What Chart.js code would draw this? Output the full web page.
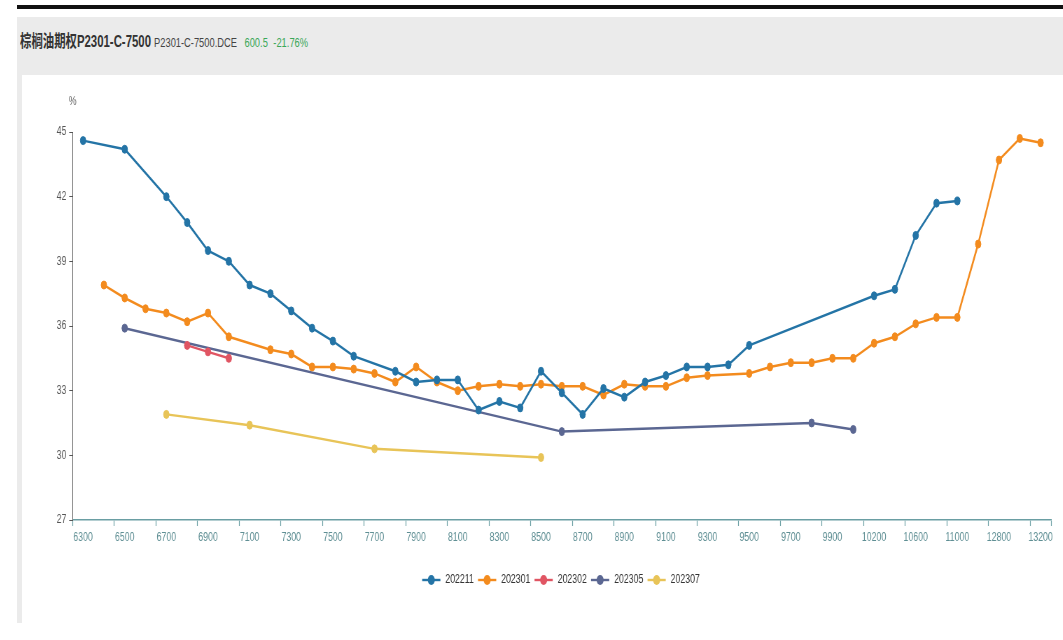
<!DOCTYPE html>
<html><head><meta charset="utf-8">
<script src="https://cdn.jsdelivr.net/npm/chart.js@4.4.0/dist/chart.umd.min.js"></script>
<style>
html,body{margin:0;padding:0;background:#fff;overflow:hidden;width:1063px;height:640px;}
#bar{position:absolute;left:17px;top:5px;width:1100px;height:4px;background:#111;}
#frame{position:absolute;left:17px;top:17px;width:1100px;height:606px;background:#ebebeb;}
#title{position:absolute;left:20px;top:33px;white-space:nowrap;transform:scaleX(0.69);transform-origin:0 0;font-family:"Liberation Sans","Noto Sans CJK SC",sans-serif;color:#333;line-height:17px;}
#title b{font-size:16.5px;font-family:"Liberation Sans","Noto Sans CJK SC",sans-serif;}
#title .c{font-size:13.5px;color:#444;}
#title .g{font-size:13.5px;color:#3aa757;}
#panel{position:absolute;left:22px;top:75px;width:1078px;height:548px;background:#fff;overflow:hidden;}
#wrap{position:absolute;left:0;top:0;width:1540px;height:548px;transform:scaleX(0.7);transform-origin:0 0;}
</style></head>
<body>
<div id="bar"></div>
<div id="frame"></div>
<div id="title"><b>棕榈油期权P2301-C-7500</b> <span class="c">P2301-C-7500.DCE</span><span class="g" style="margin-left:11px">600.5</span><span class="g" style="margin-left:8px">-21.76%</span></div>
<div id="panel"><div id="wrap"><canvas id="c" width="1540" height="548"></canvas></div></div>
<script>
const strikes = ['6300','6400','6500','6600','6700','6800','6900','7000','7100','7200','7300','7400','7500','7600','7700','7800','7900','8000','8100','8200','8300','8400','8500','8600','8700','8800','8900','9000','9100','9200','9300','9400','9500','9600','9700','9800','9900','10000','10200','10400','10600','10800','11000','12600','12800','13000','13200'];
const iv202211 = [44.6,null,44.2,null,42.0,40.8,39.5,39.0,37.9,37.5,36.7,35.9,35.3,34.6,null,33.9,33.4,33.5,33.5,32.1,32.5,32.2,33.9,32.9,31.9,33.1,32.7,33.4,33.7,34.1,34.1,34.2,35.1,null,null,null,null,null,37.4,37.7,40.2,41.7,41.8,null,null,null,null];
const iv202301 = [null,37.9,37.3,36.8,36.6,36.2,36.6,35.5,null,34.9,34.7,34.1,34.1,34.0,33.8,33.4,34.1,33.4,33.0,33.2,33.3,33.2,33.3,33.2,33.2,32.8,33.3,33.2,33.2,33.6,33.7,null,33.8,34.1,34.3,34.3,34.5,34.5,35.2,35.5,36.1,36.4,36.4,39.8,43.7,44.7,44.5];
const iv202302 = [null,null,null,null,null,35.1,34.8,34.5,null,null,null,null,null,null,null,null,null,null,null,null,null,null,null,null,null,null,null,null,null,null,null,null,null,null,null,null,null,null,null,null,null,null,null,null,null,null,null];
const iv202305 = [null,null,35.9,null,null,null,null,null,null,null,null,null,null,null,null,null,null,null,null,null,null,null,null,31.1,null,null,null,null,null,null,null,null,null,null,null,31.5,null,31.2,null,null,null,null,null,null,null,null,null];
const iv202307 = [null,null,null,null,31.9,null,null,null,31.4,null,null,null,null,null,30.3,null,null,null,null,null,null,null,29.9,null,null,null,null,null,null,null,null,null,null,null,null,null,null,null,null,null,null,null,null,null,null,null,null];
const seriesNames = ['202211','202301','202302','202305','202307'];
const seriesColors = ['#2474a6','#f38b1e','#e05563','#5b6792','#e8c458'];
const yMin = 27, yMax = 45, yStep = 3;

const seriesData = [iv202211, iv202301, iv202302, iv202305, iv202307];
const datasets = seriesNames.map((n, i) => ({
  label: n,
  data: seriesData[i],
  borderColor: seriesColors[i],
  backgroundColor: seriesColors[i],
  pointBackgroundColor: seriesColors[i],
  pointBorderColor: seriesColors[i],
  pointRadius: 4,
  pointBorderWidth: 1,
  borderWidth: 2.5,
  tension: 0,
  spanGaps: true
}));

const FONT = '"Liberation Sans", "Noto Sans CJK SC", sans-serif';
const extras = {
  id: 'extras',
  afterDraw(chart) {
    const ctx = chart.ctx, ca = chart.chartArea;
    ctx.save();
    ctx.font = '12.5px ' + FONT;
    ctx.fillStyle = '#666';
    ctx.textAlign = 'center';
    ctx.textBaseline = 'middle';
    ctx.fillText('%', ca.left, ca.top - 30);
    // legend
    const iconW = 26, gapT = 7, gapI = 6;
    const ds = chart.data.datasets;
    const widths = ds.map(d => iconW + gapT + ctx.measureText(d.label).width);
    const total = widths.reduce((a, b) => a + b, 0) + gapI * (widths.length - 1);
    let x = 770 - total / 2;
    const ly = 505;
    ds.forEach((d, i) => {
      ctx.strokeStyle = d.borderColor;
      ctx.lineWidth = 2.4;
      ctx.beginPath();
      ctx.moveTo(x, ly); ctx.lineTo(x + iconW, ly);
      ctx.stroke();
      ctx.fillStyle = d.borderColor;
      ctx.beginPath();
      ctx.arc(x + iconW / 2, ly, 5, 0, Math.PI * 2);
      ctx.fill();
      ctx.fillStyle = '#333';
      ctx.textAlign = 'left';
      ctx.fillText(d.label, x + iconW + gapT, ly);
      x += widths[i] + gapI;
    });
    ctx.restore();
  }
};

new Chart(document.getElementById('c'), {
  type: 'line',
  data: { labels: strikes, datasets },
  plugins: [extras],
  options: {
    responsive: false,
    animation: false,
    devicePixelRatio: 1,
    layout: { padding: { top: 57, right: 70, bottom: 73, left: 0 } },
    plugins: { legend: { display: false }, tooltip: { enabled: false } },
    scales: {
      x: {
        type: 'category',
        offset: true,
        afterFit: s => { s.height = 30; },
        grid: {
          offset: true,
          drawOnChartArea: false,
          tickLength: 6,
          tickWidth: 1.2,
          tickColor: c => (c.index === undefined || c.index % 2 === 0) ? '#6a9ea3' : 'rgba(0,0,0,0)'
        },
        border: { color: '#6a9ea3', width: 1.6 },
        ticks: {
          autoSkip: false,
          maxRotation: 0,
          padding: 4,
          color: '#5f8f94',
          font: { size: 12.5, family: FONT },
          callback: function (v, i) { return i % 2 === 0 ? this.getLabelForValue(v) : ''; }
        }
      },
      y: {
        min: yMin, max: yMax,
        afterFit: s => { s.width = 72.4; },
        grid: { drawOnChartArea: false, tickLength: 5, tickColor: '#555' },
        border: { color: '#555', width: 1 },
        ticks: { stepSize: yStep, padding: 4, color: '#555', font: { size: 12.5, family: FONT } }
      }
    }
  }
});
</script>
</body></html>
